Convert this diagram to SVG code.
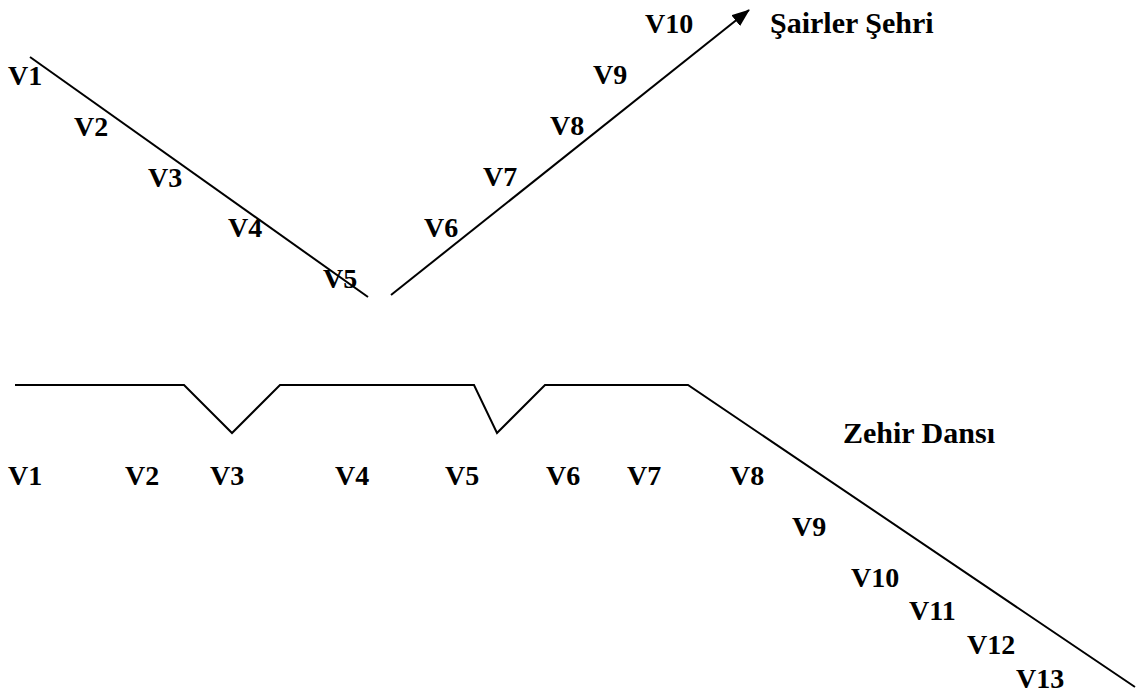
<svg xmlns="http://www.w3.org/2000/svg" width="1141" height="693" viewBox="0 0 1141 693">
<style>
.l{font-family:"Liberation Serif","Times New Roman",serif;font-weight:bold;font-size:28px;fill:#000}
.t{font-family:"Liberation Serif","Times New Roman",serif;font-weight:bold;font-size:30px;fill:#000}
.c{fill:none;stroke:#000;stroke-width:2}
</style>
<defs>
<marker id="ah" markerWidth="18" markerHeight="14" refX="17" refY="7" orient="auto" markerUnits="userSpaceOnUse">
<path d="M0,0 L18,7 L0,14 Z" fill="#000"/>
</marker>
</defs>
<rect width="1141" height="693" fill="#fff"/>
<g id="connectors">
<line class="c" x1="30" y1="57" x2="368" y2="297"/>
<line class="c" x1="391" y1="295" x2="749" y2="10" marker-end="url(#ah)"/>
<polyline class="c" points="15,385 184,385 232,433 280,385 474,385 497,433 545,385 688,385 1135,687"/>
</g>
<g id="top-labels">
<text class="l" x="8" y="85">V1</text>
<text class="l" x="74" y="136">V2</text>
<text class="l" x="148" y="187">V3</text>
<text class="l" x="228" y="237">V4</text>
<text class="l" x="323" y="288">V5</text>
<text class="l" x="424" y="237">V6</text>
<text class="l" x="483" y="186">V7</text>
<text class="l" x="550" y="135">V8</text>
<text class="l" x="593" y="84">V9</text>
<text class="l" x="645" y="33">V10</text>
<text class="t" x="770" y="33">Şairler Şehri</text>
</g>
<g id="bottom-labels">
<text class="t" x="843" y="443">Zehir Dansı</text>
<text class="l" x="8" y="485">V1</text>
<text class="l" x="125" y="485">V2</text>
<text class="l" x="210" y="485">V3</text>
<text class="l" x="335" y="485">V4</text>
<text class="l" x="445" y="485">V5</text>
<text class="l" x="546" y="485">V6</text>
<text class="l" x="627" y="485">V7</text>
<text class="l" x="730" y="485">V8</text>
<text class="l" x="792" y="536">V9</text>
<text class="l" x="851" y="587">V10</text>
<text class="l" x="909" y="620">V11</text>
<text class="l" x="967" y="654">V12</text>
<text class="l" x="1016" y="688">V13</text>
</g>
</svg>
